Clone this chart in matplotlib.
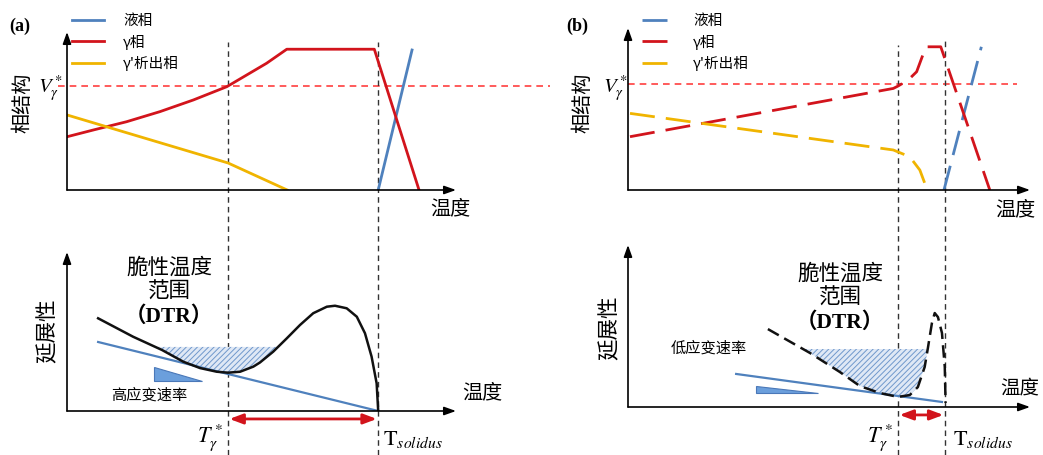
import matplotlib
matplotlib.use('Agg')
import matplotlib.pyplot as plt
import numpy as np

W, H = 1043, 455

# ---------------- (a) top: phase structure vs temperature ----------------
a_gamma_T = [0, 6.8, 15.3, 23.9, 32.5, 41.1, 46.2, 51.3, 56.5, 79.0, 90.5]
a_gamma_V = [33.7, 38.0, 43.2, 49.6, 57.0, 65.4, 72.8, 80.2, 89.1, 89.1, 0]
a_prec_T = [0, 41.4, 56.6]
a_prec_V = [47.5, 17.1, 0]
a_liq_T = [80.0, 88.7]
a_liq_V = [0, 88.6]
a_Vstar = 65.6
a_Tgamma, a_Tsol = 41.4, 80.0

# ---------------- (a) bottom: ductility vs temperature ----------------
a_duct_T = [8.0, 17.0, 24.4, 29.9, 34.2, 38.5, 41.4, 44.5, 47.9, 49.6, 53.0,
            56.5, 59.9, 63.3, 66.8, 68.9, 71.9, 74.5, 76.6, 78.3, 79.6, 80.0]
a_duct_D = [58.3, 46.7, 38.4, 31.0, 27.0, 24.7, 24.1, 24.7, 27.9, 30.5, 37.3,
            45.7, 54.1, 61.5, 65.6, 66.2, 64.6, 59.3, 48.9, 34.2, 17.4, 0]
a_rate_T = [8.0, 80.0]
a_rate_D = [43.4, 0]
a_wedge_T = [22.4, 22.4, 34.7]
a_wedge_D = [27.7, 18.9, 18.9]
a_dtr_top = 40.3

# ---------------- (b) top ----------------
b_gamma_T = [0.5, 66.0, 67.2, 69.7, 71.8, 74.1, 77.8, 90.0]
b_gamma_V = [32.9, 62.7, 64.2, 67.9, 73.0, 88.4, 88.4, 0]
b_prec_T = [0.5, 66.0, 70.1, 72.6, 74.3]
b_prec_V = [47.3, 24.7, 20.5, 12.3, 1.0]
b_liq_T = [78.6, 87.9]
b_liq_V = [0, 88.4]
b_Vstar = 65.4
b_Tgamma, b_Tsol = 67.2, 78.8

# ---------------- (b) bottom ----------------
b_duct_T = [34.8, 45.3, 52.7, 57.7, 62.7, 67.2, 70.1, 72.1, 73.8, 74.6, 75.6,
            76.3, 77.1, 78.1, 78.8, 79.0]
b_duct_D = [48.1, 33.3, 21.6, 12.9, 8.6, 6.2, 7.4, 12.3, 24.7, 36.4, 51.8,
            58.0, 55.5, 45.7, 24.7, 2.5]
b_rate_T = [26.9, 78.1]
b_rate_D = [20.4, 3.1]
b_wedge_T = [31.8, 31.8, 47.3]
b_wedge_D = [13.0, 8.6, 8.6]
b_dtr_top = 35.8

RED = '#d2141c'
BLUE = '#4f81bd'
YEL = '#f0b400'
VRED = '#ff4040'

plt.rcParams['font.family'] = ['Noto Sans CJK SC', 'DejaVu Sans']
plt.rcParams['mathtext.fontset'] = 'stix'
plt.rcParams['hatch.linewidth'] = 0.7

fig = plt.figure(figsize=(W / 100, H / 100), dpi=100)


def fx(px):
    return px / W


def fy(py):
    return 1 - py / H


def make_ax(x0, xt, y0, yt):
    ax = fig.add_axes([x0 / W, 1 - y0 / H, (xt - x0) / W, (y0 - yt) / H])
    ax.set_xlim(0, 100)
    ax.set_ylim(0, 100)
    ax.axis('off')
    arrow = dict(arrowstyle='-|>,head_length=0.7,head_width=0.25', color='k',
                 lw=1.2, shrinkA=0, shrinkB=0)
    ax.annotate('', xy=(1, 0), xytext=(0, 0), xycoords='axes fraction',
                arrowprops=arrow, annotation_clip=False)
    ax.annotate('', xy=(0, 1), xytext=(0, 0), xycoords='axes fraction',
                arrowprops=arrow, annotation_clip=False)
    ax._px = (x0, xt, y0, yt)
    return ax


def vline(ax, x, top_px):
    x0, xt, y0, yt = ax._px
    ax.axvline(x, ymin=(y0 - H) / (y0 - yt), ymax=(y0 - top_px) / (y0 - yt),
               color='#333333', lw=1.0, dashes=(4, 3), clip_on=False, zorder=1)


def hline(ax, y, left_px, right_px):
    x0, xt, y0, yt = ax._px
    ax.axhline(y, xmin=(left_px - x0) / (xt - x0), xmax=(right_px - x0) / (xt - x0),
               color=VRED, lw=1.2, dashes=(4, 3), clip_on=False, zorder=1)


def txt(px, py, s, size=15, **kw):
    kw.setdefault('ha', 'center')
    kw.setdefault('va', 'center')
    fig.text(fx(px), fy(py), s, fontsize=size, **kw)


def dtr_fill(ax, T, D, top, tmax):
    T = np.array(T)
    D = np.array(D)
    mask = (D <= top) & (T < tmax)
    ax.fill_between(T, D, top, where=mask, interpolate=True,
                    facecolor='#dfe8f5', edgecolor='none', zorder=0)
    ax.fill_between(T, D, top, where=mask, interpolate=True,
                    facecolor='none', edgecolor='#6f98cc', hatch='//////', lw=0,
                    zorder=0)


# ======================= panel (a) =======================
axa = make_ax(67, 456, 190, 32)
la1, = axa.plot(a_liq_T, a_liq_V, color=BLUE, lw=2.0, label='液相')
la2, = axa.plot(a_gamma_T, a_gamma_V, color=RED, lw=2.0, label='γ相')
la3, = axa.plot(a_prec_T, a_prec_V, color=YEL, lw=2.0, label="γ'析出相")
hline(axa, a_Vstar, 58, 550)
vline(axa, a_Tgamma, 42)
vline(axa, a_Tsol, 42)
fig.legend(handles=[la1, la2, la3], loc='upper left',
           bbox_to_anchor=(fx(72), fy(14)), frameon=False, fontsize=10.5,
           handlelength=2.2, handletextpad=1.3, labelspacing=0.45,
           borderpad=0, borderaxespad=0)

axab = make_ax(67, 456, 411, 252)
axab.plot(a_rate_T, a_rate_D, color=BLUE, lw=1.6)
dtr_fill(axab, a_duct_T, a_duct_D, a_dtr_top, 60)
axab.plot(a_duct_T, a_duct_D, color='#111111', lw=1.8)
axab.fill(a_wedge_T, a_wedge_D, facecolor='#6b9fdc', edgecolor='#4a78b8', lw=0.8)
axab.annotate('', xy=(a_Tsol, -5.0), xytext=(a_Tgamma, -5.0),
              arrowprops=dict(arrowstyle='<|-|>,head_length=0.8,head_width=0.3',
                              color=RED, lw=2, shrinkA=1, shrinkB=1),
              annotation_clip=False)

txt(20, 26, '(a)', size=13, family='Liberation Serif', weight='bold')
txt(23, 103, '相结构', size=14.5, rotation=90)
txt(63, 89, r'$V_\gamma^*$', size=15, ha='right')
txt(450, 209, '温度', size=14.5)
txt(169, 268, '脆性温度', size=15.5)
txt(169, 292, '范围', size=15.5)
txt(169, 317, '（DTR）', size=15.5, weight='bold',
    family=['Liberation Serif', 'Noto Sans CJK SC'])
txt(48, 331, '延展性', size=15.5, rotation=90)
txt(149, 395, '高应变速率', size=11)
txt(482, 393, '温度', size=14.5)
txt(210, 438, r'$T_\gamma^*$', size=16)
txt(383, 439, r'$\mathrm{T}_{solidus}$', size=16, ha='left')

# ======================= panel (b) =======================
axb = make_ax(628, 1030, 190, 28)
lb1, = axb.plot(b_liq_T, b_liq_V, color=BLUE, lw=2.0, dashes=(9, 4), label='液相')
lb2, = axb.plot(b_gamma_T, b_gamma_V, color=RED, lw=2.0, dashes=(9, 4), label='γ相')
lb3, = axb.plot(b_prec_T, b_prec_V, color=YEL, lw=2.0, dashes=(9, 4),
                label="γ'析出相")
hline(axb, b_Vstar, 628, 1017)
vline(axb, b_Tgamma, 45)
vline(axb, b_Tsol, 38)
fig.legend(handles=[lb1, lb2, lb3], loc='upper left',
           bbox_to_anchor=(fx(642), fy(14)), frameon=False, fontsize=10.5,
           handlelength=2.2, handletextpad=1.3, labelspacing=0.45,
           borderpad=0, borderaxespad=0)

axbb = make_ax(628, 1030, 407, 245)
axbb.plot(b_rate_T, b_rate_D, color=BLUE, lw=1.6)
dtr_fill(axbb, b_duct_T, b_duct_D, b_dtr_top, 76)
axbb.plot(b_duct_T, b_duct_D, color='#111111', lw=1.8, dashes=(5, 2.5))
axbb.fill(b_wedge_T, b_wedge_D, facecolor='#6b9fdc', edgecolor='#4a78b8', lw=0.8)
axbb.annotate('', xy=(b_Tsol, -4.9), xytext=(b_Tgamma, -4.9),
              arrowprops=dict(arrowstyle='<|-|>,head_length=0.8,head_width=0.3',
                              color=RED, lw=2, shrinkA=1, shrinkB=1),
              annotation_clip=False)

txt(577, 26, '(b)', size=13, family='Liberation Serif', weight='bold')
txt(583, 103, '相结构', size=14.5, rotation=90)
txt(628, 89, r'$V_\gamma^*$', size=15, ha='right')
txt(1015, 210, '温度', size=14.5)
txt(840, 274, '脆性温度', size=15.5)
txt(840, 298, '范围', size=15.5)
txt(840, 323, '（DTR）', size=15.5, weight='bold',
    family=['Liberation Serif', 'Noto Sans CJK SC'])
txt(709, 348, '低应变速率', size=11)
txt(610, 328, '延展性', size=15.5, rotation=90)
txt(1020, 388, '温度', size=14)
txt(880, 438, r'$T_\gamma^*$', size=16)
txt(953, 439, r'$\mathrm{T}_{solidus}$', size=16, ha='left')

fig.savefig('out.png', dpi=100, facecolor='white')
